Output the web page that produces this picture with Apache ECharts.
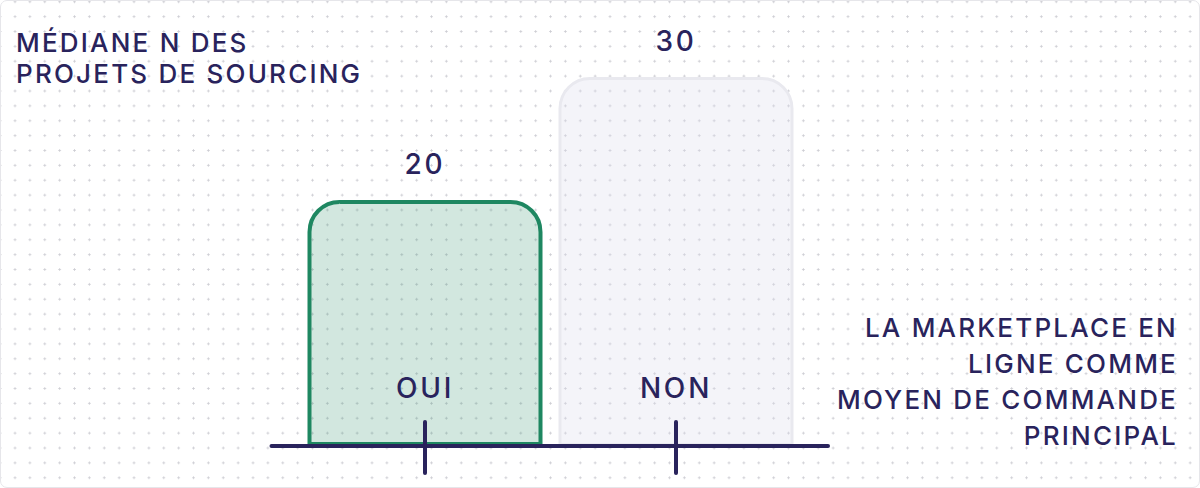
<!DOCTYPE html>
<html>
<head>
<meta charset="utf-8">
<script src="https://cdn.jsdelivr.net/npm/echarts@6/dist/echarts.min.js"></script>
<style>
  html, body { margin: 0; padding: 0; background: #ffffff; }
  #bg {
    position: absolute; left: 0; top: 0; width: 1200px; height: 488px;
    box-sizing: border-box; border: 1px solid #e6e6ea; border-radius: 7px;
    background-color: #ffffff;
    background-image: radial-gradient(circle, #cdcdd3 0.9px, rgba(255,255,255,0) 1.3px);
    background-size: 14.88px 14.88px;
    background-position: -8.3px -6.7px;
  }
  #chart { position: absolute; left: 0; top: 0; width: 1200px; height: 488px; }
  #chart text { letter-spacing: 0.1em; }
  #chart text.ttl { letter-spacing: 0.085em; }
</style>
</head>
<body>
<div id="bg"></div>
<div id="chart"></div>
<script>
const categories = ['OUI', 'NON'];
const values = [20, 30];
const yTitle = 'MÉDIANE N DES\nPROJETS DE SOURCING';
const xTitle = 'LA MARKETPLACE EN\nLIGNE COMME\nMOYEN DE COMMANDE\nPRINCIPAL';

const NAVY = '#29235c';
const FONT = 'Inter';

const barStyles = [
  { color: 'rgba(30,135,97,0.2)', borderColor: '#1e8761', borderWidth: 4, borderRadius: [30, 30, 0, 0] },
  { color: 'rgba(220,220,235,0.3)', borderColor: '#e9e9ef', borderWidth: 3, borderRadius: [30, 30, 0, 0] }
];

const chart = echarts.init(document.getElementById('chart'), null, { renderer: 'svg' });
chart.setOption({
  backgroundColor: 'transparent',
  animation: false,
  title: [
    {
      text: yTitle, left: 16, top: 27, padding: 0,
      textStyle: { color: NAVY, fontFamily: FONT, fontWeight: 500, fontSize: 26, lineHeight: 31 }
    },
    {
      text: xTitle, left: 1178, top: 309, padding: 0, textAlign: 'right',
      textStyle: { color: NAVY, fontFamily: FONT, fontWeight: 500, fontSize: 26, lineHeight: 36, align: 'right' }
    }
  ],
  grid: [
    { left: 299.5, right: 398.5, top: 77, bottom: 42 },
    { left: 271.5, right: 372, top: 77, bottom: 42 }
  ],
  xAxis: [
    {
      type: 'category', gridIndex: 0, data: categories, position: 'bottom', z: 10,
      axisLine: { show: false },
      axisTick: { show: true, alignWithLabel: true, length: 27, lineStyle: { color: NAVY, width: 4, cap: 'round' } },
      axisLabel: { show: true, inside: true, margin: 44, color: NAVY, fontFamily: FONT, fontWeight: 500, fontSize: 28, lineHeight: 28 }
    },
    {
      type: 'category', gridIndex: 0, data: categories, position: 'bottom', z: 10,
      axisLine: { show: false },
      axisTick: { show: true, inside: true, alignWithLabel: true, length: 24, lineStyle: { color: NAVY, width: 4, cap: 'round' } },
      axisLabel: { show: false }
    },
    {
      type: 'value', gridIndex: 1, min: 0, max: 1, position: 'bottom', z: 9,
      axisLine: { show: true, lineStyle: { color: NAVY, width: 4, cap: 'round' } },
      axisTick: { show: false }, axisLabel: { show: false }, splitLine: { show: false }
    }
  ],
  yAxis: [
    { type: 'value', gridIndex: 0, min: 0, max: 30, show: false },
    { type: 'value', gridIndex: 1, min: 0, max: 1, show: false }
  ],
  series: [
    {
      type: 'bar', xAxisIndex: 0, yAxisIndex: 0, z: 1,
      barWidth: 235,
      data: values.map((v, i) => ({ value: v, itemStyle: barStyles[i] })),
      label: {
        show: true, position: 'top', distance: 22,
        color: NAVY, fontFamily: FONT, fontWeight: 500, fontSize: 28, lineHeight: 28
      }
    }
  ]
});
// tighter tracking for the two multi-line captions
document.querySelectorAll('#chart text').forEach(t => {
  const s = t.textContent;
  if (/[A-Z]{4,}/.test(s) && s !== 'OUI' && s !== 'NON') t.classList.add('ttl');
});
</script>
</body>
</html>
